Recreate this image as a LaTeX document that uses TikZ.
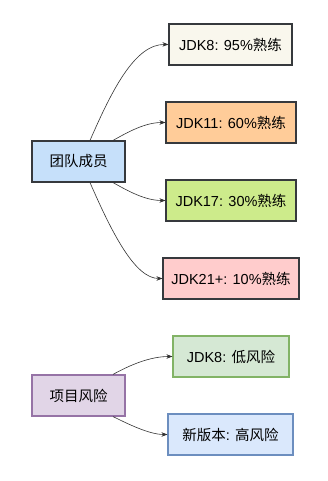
\documentclass[tikz,border=0pt]{standalone}
\usepackage{fontspec}
\setmainfont{Liberation Sans}
\newfontfamily\zhfont{Noto Sans CJK SC}
\newcommand{\zh}[1]{{\zhfont #1}}
\usetikzlibrary{arrows.meta}
\definecolor{edgecol}{HTML}{333333}
\definecolor{darkline}{HTML}{36393D}
\definecolor{teamfill}{HTML}{C6E0FA}
\definecolor{creamfill}{HTML}{F9F7ED}
\definecolor{orangefill}{HTML}{FFCC99}
\definecolor{limefill}{HTML}{CDEB8B}
\definecolor{pinkfill}{HTML}{FFCCCC}
\definecolor{purplefill}{HTML}{E1D5E7}
\definecolor{purpleline}{HTML}{9673A6}
\definecolor{greenfill}{HTML}{D5E8D4}
\definecolor{greenline}{HTML}{82B366}
\definecolor{bluefill}{HTML}{DAE8FC}
\definecolor{blueline}{HTML}{6C8EBF}
\tikzset{
  box/.style={draw, line width=1.1pt, minimum height=41pt, inner sep=0pt, font=\fontsize{14.5}{17}\selectfont},
  link/.style={draw=edgecol, line width=0.6pt, -{Stealth[length=6pt,width=4.5pt]}},
}
\begin{document}
\begin{tikzpicture}[x=1pt,y=-1pt]
\path[fill=white] (0,0) rectangle (327,481);
\useasboundingbox (0,0) rectangle (327,481);
\node[box, fill=teamfill, draw=darkline, minimum width=93pt] (team) at (78.5,161.5) {\zh{团队成员}};
\node[box, fill=creamfill, draw=darkline, minimum width=123pt] (jdk8) at (230.5,44.5) {JDK8: 95\%\zh{熟练}};
\node[box, fill=orangefill, draw=darkline, minimum width=130pt] (jdk11) at (231,122.5) {JDK11: 60\%\zh{熟练}};
\node[box, fill=limefill, draw=darkline, minimum width=130pt] (jdk17) at (231,200.5) {JDK17: 30\%\zh{熟练}};
\node[box, fill=pinkfill, draw=darkline, minimum width=136pt] (jdk21) at (231,278.5) {JDK21+: 10\%\zh{熟练}};
\node[box, fill=purplefill, draw=purpleline, minimum width=93pt] (risk) at (78.5,395.5) {\zh{项目风险}};
\node[box, fill=greenfill, draw=greenline, minimum width=116pt] (low) at (231,356.5) {JDK8: \zh{低风险}};
\node[box, fill=bluefill, draw=blueline, minimum width=125pt] (high) at (230.5,434.5) {\zh{新版本}: \zh{高风险}};
\draw[link] ([xshift=11.5pt]team.north) .. controls (112,90) and (135,44) .. (jdk8.west);
\draw[link] ([xshift=34.5pt]team.north) .. controls (128,132) and (145,122.5) .. (jdk11.west);
\draw[link] ([xshift=34.5pt]team.south) .. controls (128,191) and (145,200.5) .. (jdk17.west);
\draw[link] ([xshift=11.5pt]team.south) .. controls (112,233) and (135,278.5) .. (jdk21.west);
\draw[link] ([xshift=34.5pt]risk.north) .. controls (130,365) and (150,356.5) .. (low.west);
\draw[link] ([xshift=34.5pt]risk.south) .. controls (130,425) and (150,434.5) .. (high.west);
\end{tikzpicture}
\end{document}
